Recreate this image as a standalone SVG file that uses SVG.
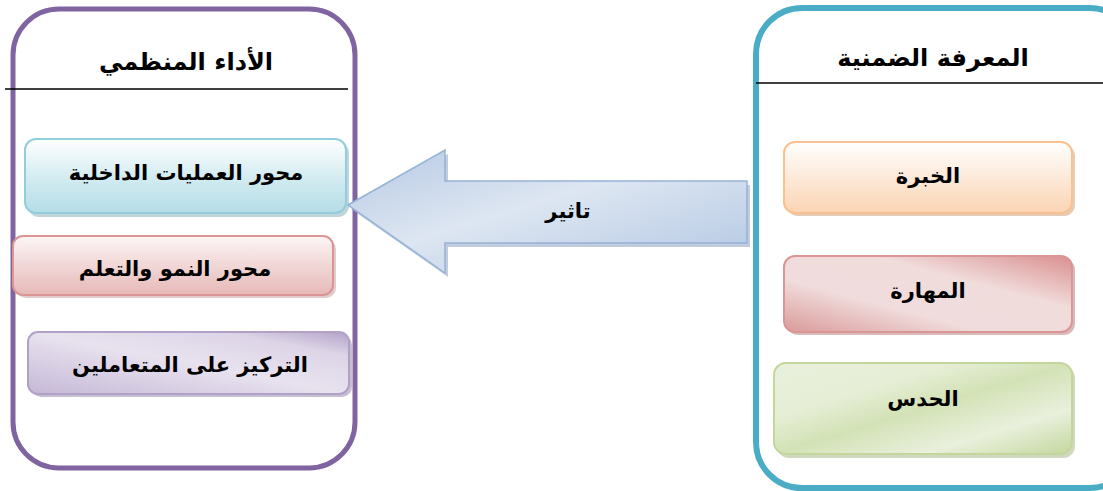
<svg xmlns="http://www.w3.org/2000/svg" width="1103" height="491" viewBox="0 0 1103 491">
<style>
.t{font-family:"DejaVu Sans","Liberation Sans",sans-serif;font-weight:bold;fill:#000;text-anchor:middle;direction:rtl}
.title{font-size:24px}
.lbl{font-size:21px}
.sh{opacity:0.55}
</style>
<defs>
<linearGradient id="gBlue" x1="0" y1="0" x2="0" y2="1"><stop offset="0" stop-color="#ffffff"/><stop offset="0.6" stop-color="#cde9ef"/><stop offset="1" stop-color="#b6dde7"/></linearGradient>
<linearGradient id="gRed" x1="0" y1="0" x2="0" y2="1"><stop offset="0" stop-color="#fdf5f5"/><stop offset="1" stop-color="#e6b9b8"/></linearGradient>
<linearGradient id="gPurp" x1="0" y1="1" x2="1" y2="0"><stop offset="0" stop-color="#c5b8d6"/><stop offset="0.5" stop-color="#e8e2ef"/><stop offset="0.8" stop-color="#ddd5e7"/><stop offset="1" stop-color="#b3a2c9"/></linearGradient>
<linearGradient id="gOr" x1="0" y1="0" x2="0" y2="1"><stop offset="0" stop-color="#ffffff"/><stop offset="1" stop-color="#fbd4b3"/></linearGradient>
<linearGradient id="gMa" x1="0" y1="1" x2="1" y2="0"><stop offset="0" stop-color="#da9a99"/><stop offset="0.35" stop-color="#f0dcdc"/><stop offset="0.65" stop-color="#f1dcdc"/><stop offset="1" stop-color="#d9908f"/></linearGradient>
<linearGradient id="gGr" x1="0" y1="0" x2="1" y2="1"><stop offset="0" stop-color="#e9f0dc"/><stop offset="0.3" stop-color="#e6eed6"/><stop offset="0.5" stop-color="#d3e2b6"/><stop offset="0.75" stop-color="#e9f0dc"/><stop offset="1" stop-color="#c4d79e"/></linearGradient>
<linearGradient id="gArr" x1="0" y1="0" x2="1" y2="1"><stop offset="0" stop-color="#b6c9e3"/><stop offset="0.45" stop-color="#dde6f2"/><stop offset="1" stop-color="#b1c6e2"/></linearGradient>
</defs>

<g id="container-left">
<rect x="13" y="9" width="342" height="459" rx="46" ry="46" fill="#fff" stroke="#8064a2" stroke-width="5"/>
<line x1="5" y1="89" x2="348" y2="89" stroke="#000" stroke-width="1.5"/>
<text class="t title" x="186" y="70">الأداء المنظمي</text>
</g>

<g id="container-right">
<rect x="756" y="8" width="380" height="480" rx="46" ry="46" fill="#fff" stroke="#4bacc6" stroke-width="6"/>
<line x1="756" y1="83" x2="1103" y2="83" stroke="#000" stroke-width="1.5"/>
<text class="t title" x="933" y="66">المعرفة الضمنية</text>
</g>

<g id="connectors">
<polygon class="sh" points="351,209 448,154 448,185 750,185 750,247 448,247 448,277" fill="#8ea2bf"/>
<polygon points="348,205 445,150 445,181 747,181 747,243 445,243 445,273" fill="url(#gArr)" stroke="#95b3d7" stroke-width="1.5"/>
<text class="t lbl" x="568" y="218">تاثير</text>
</g>

<g id="box-internal">
<rect class="sh" x="28" y="142" width="321" height="75" rx="11" fill="#8fb3bd"/>
<rect x="25" y="139" width="321" height="74" rx="11" fill="url(#gBlue)" stroke="#92cddc" stroke-width="2"/>
<text class="t lbl" x="186" y="180">محور العمليات الداخلية</text>
</g>

<g id="box-growth">
<rect class="sh" x="16" y="239" width="320" height="59" rx="10" fill="#c9a3a2"/>
<rect x="13" y="236" width="320" height="59" rx="10" fill="url(#gRed)" stroke="#d99694" stroke-width="2"/>
<text class="t lbl" x="175" y="276">محور النمو والتعلم</text>
</g>

<g id="box-customers">
<rect class="sh" x="31" y="335" width="321" height="62" rx="10" fill="#9a8aad"/>
<rect x="28" y="332" width="321" height="62" rx="10" fill="url(#gPurp)" stroke="#b2a1c7" stroke-width="2"/>
<text class="t lbl" x="190" y="372">التركيز على المتعاملين</text>
</g>

<g id="box-experience">
<rect class="sh" x="787" y="145" width="288" height="71" rx="11" fill="#d0a27c"/>
<rect x="784" y="142" width="288" height="71" rx="11" fill="url(#gOr)" stroke="#fac090" stroke-width="2"/>
<text class="t lbl" x="928" y="183">الخبرة</text>
</g>

<g id="box-skill">
<rect class="sh" x="787" y="259" width="288" height="76" rx="11" fill="#b98483"/>
<rect x="784" y="256" width="288" height="76" rx="11" fill="url(#gMa)" stroke="#d99694" stroke-width="2"/>
<text class="t lbl" x="928" y="298">المهارة</text>
</g>

<g id="box-intuition">
<rect class="sh" x="777" y="366" width="298" height="92" rx="12" fill="#a9b98a"/>
<rect x="774" y="363" width="298" height="91" rx="12" fill="url(#gGr)" stroke="#c3d69b" stroke-width="2"/>
<text class="t lbl" x="923" y="406">الحدس</text>
</g>
</svg>
